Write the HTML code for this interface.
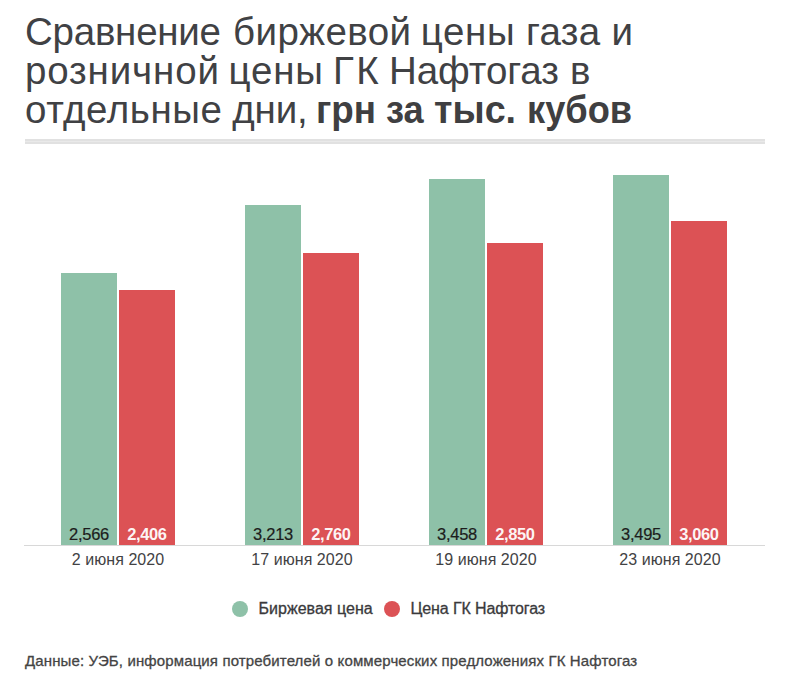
<!DOCTYPE html>
<html lang="ru">
<head>
<meta charset="utf-8">
<title>Сравнение биржевой цены газа и розничной цены ГК Нафтогаз</title>
<style>
  html, body { margin: 0; padding: 0; background: #ffffff; }
  body {
    width: 791px; height: 686px; position: relative; overflow: hidden;
    font-family: "Liberation Sans", sans-serif; color: #444;
  }
  .abs { position: absolute; white-space: nowrap; }
  .w { position: absolute; white-space: nowrap; font-size: 38.5px; line-height: 38px; color: #404144; }
  .w.b { font-weight: bold; color: #3f3f41; display: inline-block; transform-origin: 0 0; }
  #rule { position: absolute; left: 25px; top: 139px; width: 740px; height: 5px; background: linear-gradient(#e1e1e1 0, #e1e1e1 2px, #e9e9e9 2px, #e9e9e9 3px, #e1e1e1 3px, #e1e1e1 5px); }
  #axis { position: absolute; left: 24px; top: 545px; width: 741px; height: 1px; background: #d8d8d8; }
  .bar { position: absolute; width: 56px; }
  .g { background: #8ec1a8; }
  .r { background: #dc5255; }
  .v { position: absolute; left: 0; right: 0; bottom: 2px; text-align: center; font-size: 16.5px; line-height: 18px; white-space: nowrap; }
  .g .v { color: #1c1c1c; letter-spacing: -0.3px; -webkit-text-stroke: 0.2px #1c1c1c; }
  .r .v { color: rgba(255,255,255,0.94); font-weight: bold; letter-spacing: -0.4px; }
  .d { position: absolute; top: 551px; letter-spacing: 0.06px; width: 184px; text-align: center; font-size: 16px; line-height: 18px; color: #424244; white-space: nowrap; }
  .dot { position: absolute; width: 16px; height: 16px; border-radius: 50%; top: 601px; }
  .lg { position: absolute; top: 600px; font-size: 16px; line-height: 18px; color: #3a3a3c; white-space: nowrap; -webkit-text-stroke: 0.3px #3a3a3c; }
  #foot { position: absolute; left: 25px; top: 652px; letter-spacing: 0.13px; font-size: 15px; line-height: 18px; color: #444; white-space: nowrap; -webkit-text-stroke: 0.3px #444; }
</style>
</head>
<body>
  <span class="w" style="left:25px; top:13px; letter-spacing:-0.24px;">Сравнение</span>
  <span class="w" style="left:233px; top:13px; letter-spacing:0.419px;">биржевой</span>
  <span class="w" style="left:420.7px; top:13px; letter-spacing:0.669px;">цены</span>
  <span class="w" style="left:526px; top:13px; letter-spacing:0.324px;">газа</span>
  <span class="w" style="left:611.4px; top:13px; letter-spacing:0px;">и</span>
  <span class="w" style="left:25px; top:52px; letter-spacing:0.857px;">розничной</span>
  <span class="w" style="left:228.6px; top:52px; letter-spacing:0.769px;">цены</span>
  <span class="w" style="left:333px; top:52px; letter-spacing:2.452px;">ГК</span>
  <span class="w" style="left:389px; top:52px; letter-spacing:-0.091px;">Нафтогаз</span>
  <span class="w" style="left:570px; top:52px; letter-spacing:0px;">в</span>
  <span class="w" style="left:25px; top:91px; letter-spacing:0.578px;">отдельные</span>
  <span class="w" style="left:232.3px; top:91px; letter-spacing:-0.144px;">дни,</span>
  <span class="w b" style="left:316.39px; top:91px; transform:scaleX(0.9556);">грн</span>
  <span class="w b" style="left:385.56px; top:91px; transform:scaleX(0.9394);">за</span>
  <span class="w b" style="left:434.32px; top:91px; transform:scaleX(0.9790);">тыс.</span>
  <span class="w b" style="left:527.32px; top:91px; transform:scaleX(0.9413);">кубов</span>
  <div id="rule"></div>

  <div class="bar g" id="b1g" style="left:61px; top:273px; height:272px;"><span class="v">2,566</span></div>
  <div class="bar r" id="b1r" style="left:119px; top:290px; height:255px;"><span class="v">2,406</span></div>
  <div class="bar g" id="b2g" style="left:245px; top:204.5px; height:340.5px;"><span class="v">3,213</span></div>
  <div class="bar r" id="b2r" style="left:303px; top:252.5px; height:292.5px;"><span class="v">2,760</span></div>
  <div class="bar g" id="b3g" style="left:429px; top:178.5px; height:366.5px;"><span class="v">3,458</span></div>
  <div class="bar r" id="b3r" style="left:487px; top:243px; height:302px;"><span class="v">2,850</span></div>
  <div class="bar g" id="b4g" style="left:613px; top:174.5px; height:370.5px;"><span class="v">3,495</span></div>
  <div class="bar r" id="b4r" style="left:671px; top:220.5px; height:324.5px;"><span class="v">3,060</span></div>
  <div id="axis"></div>

  <div class="d" style="left:26px;">2 июня 2020</div>
  <div class="d" style="left:210px;">17 июня 2020</div>
  <div class="d" style="left:394px;">19 июня 2020</div>
  <div class="d" style="left:578px;">23 июня 2020</div>

  <div class="dot g" style="left:232px;"></div>
  <div class="lg" id="lg1" style="left:258.5px; letter-spacing:0.03px;">Биржевая цена</div>
  <div class="dot r" style="left:384px;"></div>
  <div class="lg" id="lg2" style="left:410.5px; letter-spacing:-0.1px;">Цена ГК Нафтогаз</div>

  <div id="foot">Данные: УЭБ, информация потребителей о коммерческих предложениях ГК Нафтогаз</div>
</body>
</html>
